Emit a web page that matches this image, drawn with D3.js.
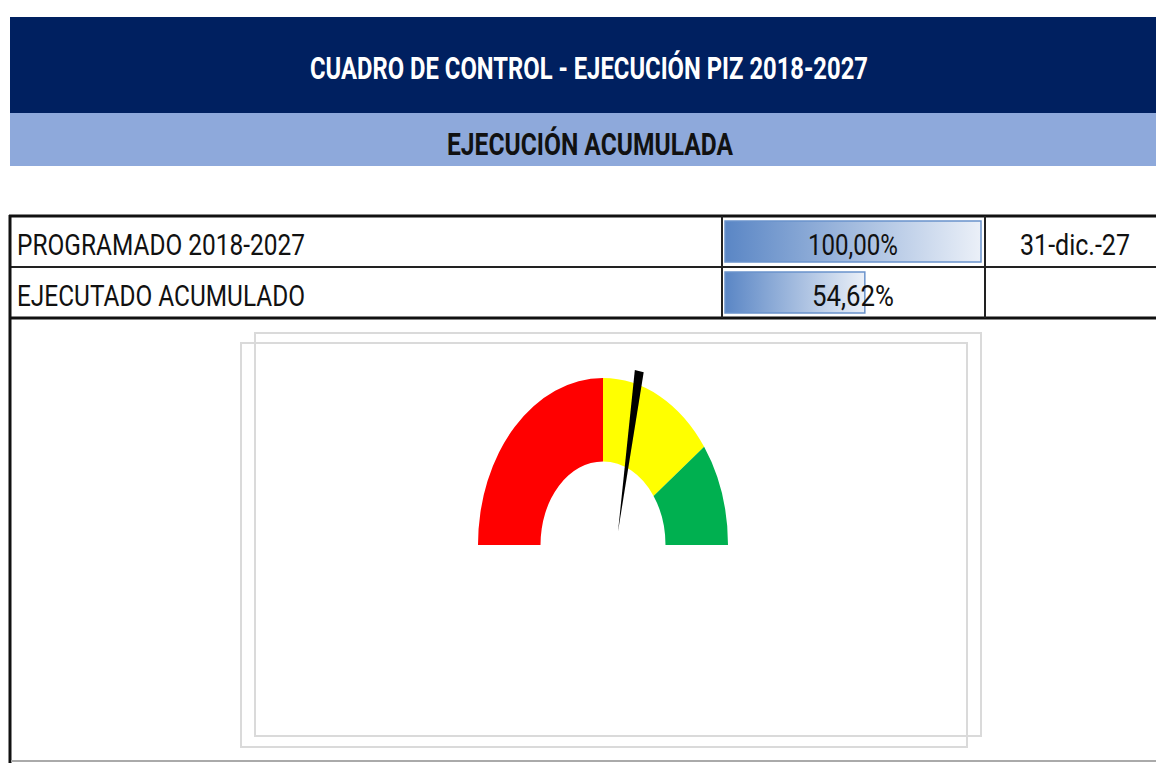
<!DOCTYPE html>
<html>
<head>
<meta charset="utf-8">
<script src="https://cdn.jsdelivr.net/npm/d3@7"></script>
<style>
  body { margin: 0; background: #fff; }
  svg { display: block; }
  text { font-family: "Liberation Sans Narrow", "Roboto", "Open Sans", sans-serif; }
</style>
</head>
<body>
<div id="tablero"></div>
<script>
// datos del cuadro
var titulo = "CUADRO DE CONTROL - EJECUCIÓN PIZ 2018-2027",
    subtitulo = "EJECUCIÓN ACUMULADA";

var filas = ["PROGRAMADO 2018-2027", "EJECUTADO ACUMULADO"];
var porcentajes = [1.0, 0.5462];
var fechas = ["31-dic.-27", ""];

// rangos del velocimetro
var limites = [0, 0.5, 0.8, 1];
var coloresRango = ["#FF0000", "#FFFF00", "#00B050"];
var valorAguja = 0.5462;

var width = 1156,
    height = 763;

var es = d3.formatLocale({decimal: ",", thousands: ".", grouping: [3], currency: ["", " €"]});
var fmt = es.format(".2%");

var svg = d3.select('#tablero')
    .append('svg')
      .attr('width', width)
      .attr('height', height);

// encabezados
svg.append('rect')
    .attr('x', 10).attr('y', 17)
    .attr('width', width - 10).attr('height', 96)
    .style('fill', '#002060');
svg.append('rect')
    .attr('x', 10).attr('y', 113)
    .attr('width', width - 10).attr('height', 53)
    .style('fill', '#8EA9DB');

svg.append('text')
    .attr('x', 589).attr('y', 79)
    .attr('text-anchor', 'middle')
    .attr('textLength', 558).attr('lengthAdjust', 'spacingAndGlyphs')
    .style('font-size', '31px').style('font-weight', 'bold')
    .style('fill', '#fff')
    .text(titulo);
svg.append('text')
    .attr('x', 590).attr('y', 155)
    .attr('text-anchor', 'middle')
    .attr('textLength', 286).attr('lengthAdjust', 'spacingAndGlyphs')
    .style('font-size', '31px').style('font-weight', 'bold')
    .style('fill', '#111')
    .text(subtitulo);

// tabla
var yFila = d3.scaleBand()
    .domain(d3.range(filas.length))
    .range([216, 318]);

var xBarra = d3.scaleLinear()
    .domain([0, 1])
    .range([725, 981]);

var grad = svg.append('defs').append('linearGradient')
    .attr('id', 'degradado')
    .attr('x1', '0%').attr('x2', '100%');
grad.append('stop').attr('offset', '0%').attr('stop-color', '#5A86C5');
grad.append('stop').attr('offset', '100%').attr('stop-color', '#EBF0F8');

var fila = svg.selectAll('g.fila')
    .data(filas)
    .enter().append('g')
      .attr('class', 'fila')
      .attr('transform', function (d, i) { return 'translate(0,' + yFila(i) + ')'; });

fila.append('rect')
    .attr('x', xBarra(0))
    .attr('y', 5)
    .attr('width', function (d, i) { return xBarra(porcentajes[i]) - xBarra(0); })
    .attr('height', yFila.bandwidth() - 10)
    .style('fill', 'url(#degradado)')
    .style('stroke', '#6A93CC')
    .style('stroke-width', 1.5);

fila.append('text')
    .attr('x', 17)
    .attr('y', 39)
    .attr('textLength', 288).attr('lengthAdjust', 'spacingAndGlyphs')
    .style('font-size', '29px')
    .style('fill', '#111')
    .text(function (d) { return d; });

fila.append('text')
    .attr('x', 853)
    .attr('y', 39)
    .attr('text-anchor', 'middle')
    .attr('textLength', function (d, i) { return i == 0 ? 90 : 82; })
    .attr('lengthAdjust', 'spacingAndGlyphs')
    .style('font-size', '29px')
    .style('fill', '#111')
    .text(function (d, i) { return fmt(porcentajes[i]); });

fila.append('text')
    .attr('x', 1075)
    .attr('y', 39)
    .attr('text-anchor', 'middle')
    .style('font-size', '29px')
    .style('fill', '#111')
    .text(function (d, i) { return fechas[i]; })
    .attr('textLength', function (d, i) { return fechas[i] ? 110 : null; })
    .attr('lengthAdjust', 'spacingAndGlyphs');

// lineas de la tabla
var lineas = [
  {x1: 9, x2: width, y1: 216, y2: 216, w: 3, c: '#111'},
  {x1: 9, x2: width, y1: 267, y2: 267, w: 2, c: '#222'},
  {x1: 9, x2: width, y1: 318, y2: 318, w: 3, c: '#111'},
  {x1: 10, x2: 10, y1: 215, y2: height, w: 3, c: '#111'},
  {x1: 722, x2: 722, y1: 216, y2: 318, w: 2, c: '#222'},
  {x1: 985, x2: 985, y1: 216, y2: 318, w: 2, c: '#222'},
  {x1: 11, x2: width, y1: 761, y2: 761, w: 2, c: '#AAAAAA'}
];
svg.selectAll('line.borde')
    .data(lineas)
    .enter().append('line')
      .attr('class', 'borde')
      .attr('x1', function (d) { return d.x1; })
      .attr('x2', function (d) { return d.x2; })
      .attr('y1', function (d) { return d.y1; })
      .attr('y2', function (d) { return d.y2; })
      .style('stroke', function (d) { return d.c; })
      .style('stroke-width', function (d) { return d.w; });

// marcos del grafico (dos, desfasados)
var marcos = [{x: 255, y: 333, w: 726, h: 403}, {x: 241, y: 343, w: 726, h: 404}];
svg.selectAll('rect.marco')
    .data(marcos)
    .enter().append('rect')
      .attr('class', 'marco')
      .attr('x', function (d) { return d.x; })
      .attr('y', function (d) { return d.y; })
      .attr('width', function (d) { return d.w; })
      .attr('height', function (d) { return d.h; })
      .style('fill', 'none')
      .style('stroke', '#DADADA')
      .style('stroke-width', 2);

// velocimetro
var angulo = d3.scaleLinear()
    .domain([0, 1])
    .range([-Math.PI / 2, Math.PI / 2]);

var arco = d3.arc()
    .innerRadius(62.5)
    .outerRadius(125);

var gauge = svg.append('g')
    .attr('transform', 'translate(603,545) scale(1,1.336)');

gauge.selectAll('path.rango')
    .data(coloresRango)
    .enter().append('path')
      .attr('class', 'rango')
      .attr('d', function (d, i) {
        return arco({startAngle: angulo(limites[i]), endAngle: angulo(limites[i + 1])});
      })
      .style('fill', function (d) { return d; });

// aguja
var pivote = [15, -10],
    largo = 122,
    a = angulo(valorAguja) + 0.03;
var punta = [pivote[0] + largo * Math.sin(a), pivote[1] - largo * Math.cos(a)];
var perp = [Math.cos(a) * 4.5, Math.sin(a) * 4.5];

gauge.append('path')
    .attr('d', d3.line()([
      pivote,
      [punta[0] - perp[0], punta[1] - perp[1]],
      [punta[0] + perp[0], punta[1] + perp[1]]
    ]) + 'Z')
    .style('fill', '#000');
</script>
</body>
</html>
